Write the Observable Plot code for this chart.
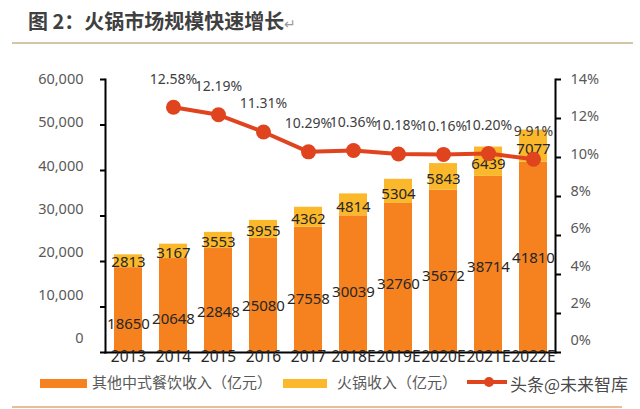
<!DOCTYPE html>
<html>
<head>
<meta charset="utf-8">
<script src="https://cdn.jsdelivr.net/npm/d3@7"></script>
<script src="https://cdn.jsdelivr.net/npm/@observablehq/plot@0.6"></script>
<style>
  body { margin:0; width:640px; height:409px; position:relative; overflow:hidden; background:#fff;
         font-family:'Noto Sans','Noto Sans CJK SC',sans-serif; }
  .abs { position:absolute; }
  .leg { position:absolute; top:373px; font-size:15px; color:#595959; font-family:'Noto Sans CJK SC',sans-serif; line-height:18px; }
</style>
</head>
<body>
<div class="abs" style="left:28px;top:7px;font:bold 20px 'Noto Sans CJK SC',sans-serif;color:#404040;line-height:28px;">图 2：火锅市场规模快速增长<span style="color:#9a9a9a;font-weight:normal;font-size:14px;">↵</span></div>
<div class="abs" style="left:12px;top:42px;width:621px;height:2px;background:#d2c5a8;"></div>
<div id="chart" class="abs" style="left:0;top:46px;"></div>
<div class="abs" style="left:40px;top:379px;width:47px;height:9px;background:#F5821F;"></div>
<div class="leg" style="left:92px;">其他中式餐饮收入（亿元）</div>
<div class="abs" style="left:283px;top:379px;width:44px;height:9px;background:#FBB82A;"></div>
<div class="leg" style="left:337px;">火锅收入（亿元）</div>
<div class="abs" style="left:467px;top:380px;width:40px;height:4px;background:#E0441F;"></div>
<div class="abs" style="left:484px;top:377px;width:10px;height:10px;border-radius:5px;background:#E0441F;"></div>
<div class="abs" style="left:510px;top:371px;font-size:17px;color:rgba(50,50,50,0.9);font-family:'Noto Sans CJK SC',sans-serif;text-shadow:0 0 2px #fff,0 0 2px #fff;">头条@未来智库</div>
<div class="abs" style="left:12px;top:406px;width:610px;height:2px;background:#e6bf94;"></div>
<script>
const years = ["2013","2014","2015","2016","2017","2018E","2019E","2020E","2021E","2022E"];
const otherIncome = [18650,20648,22848,25080,27558,30039,32760,35672,38714,41810];
const hotpotIncome = [2813,3167,3553,3955,4362,4814,5304,5843,6439,7077];
const growthYears = ["2014","2015","2016","2017","2018E","2019E","2020E","2021E","2022E"];
const growthPct = [12.58,12.19,11.31,10.29,10.36,10.18,10.16,10.20,9.91];
const leftTicks = [0,10000,20000,30000,40000,50000,60000];
const rightTicks = [0,2,4,6,8,10,12,14];

const ORANGE = "#F5821F", YELLOW = "#FBB82A", RED = "#E0441F";
const yMax = 60000, pMax = 14, k = yMax / pMax;

const rows = years.map((year, i) => ({
  year, other: otherIncome[i], hotpot: hotpotIncome[i], total: otherIncome[i] + hotpotIncome[i]
}));
const growth = growthYears.map((year, i) => ({year, g: growthPct[i]}));

const chart = Plot.plot({
  width: 640, height: 328,
  marginLeft: 105, marginRight: 85, marginTop: 33, marginBottom: 22,
  style: {fontFamily: "'Noto Sans','Noto Sans CJK SC',sans-serif", overflow: "visible"},
  x: {domain: years, paddingInner: 0.38, paddingOuter: 0.18, axis: null},
  y: {domain: [0, yMax], axis: null},
  marks: [
    Plot.barY(rows, {x: "year", y1: 0, y2: "other", fill: ORANGE}),
    Plot.barY(rows, {x: "year", y1: "other", y2: "total", fill: YELLOW}),
    Plot.text(rows, {x: "year", y: d => d.other + d.hotpot * 0.4, text: d => String(d.hotpot), fontSize: 15, fill: "#262626"}),
    Plot.text(rows, {x: "year", y: d => d.other * 0.63 - 5600, text: d => String(d.other), fontSize: 15, fill: "#262626"}),
    Plot.frame({anchor: "left", stroke: "#000", strokeWidth: 2}),
    Plot.frame({anchor: "right", stroke: "#000", strokeWidth: 2}),
    Plot.frame({anchor: "bottom", stroke: "#000", strokeWidth: 2}),
    Plot.axisY({anchor: "left", ticks: leftTicks, tickSize: 5, tickFormat: () => "", label: null, stroke: "#000", strokeWidth: 2}),
    Plot.axisY({anchor: "right", ticks: rightTicks.map(p => p * k), tickSize: 5, tickFormat: () => "", label: null, stroke: "#000", strokeWidth: 2}),
    Plot.text(leftTicks, {y: d => yMax - (yMax - d) * 0.95, text: d => d3.format(",")(d), frameAnchor: "left", dx: -22, textAnchor: "end", fontSize: 14.5, fill: "#595959"}),
    Plot.text(rightTicks, {y: p => (pMax - (pMax - p) * 0.957) * k, text: p => p + "%", frameAnchor: "right", dx: 15, textAnchor: "start", fontSize: 14.5, fill: "#595959"}),
    Plot.text(years, {x: d => d, text: d => d, frameAnchor: "bottom", dy: 9, fontSize: 15.5, fill: "#262626"}),
    Plot.line(growth, {x: "year", y: d => d.g * k, stroke: RED, strokeWidth: 4}),
    Plot.dot(growth, {x: "year", y: d => d.g * k, r: 7.5, fill: RED}),
    Plot.text(growth, {x: "year", y: d => d.g * k, text: d => d.g.toFixed(2) + "%", dy: -28, fontSize: 14, fill: "#404040"})
  ]
});
document.getElementById("chart").appendChild(chart);
</script>
</body>
</html>
